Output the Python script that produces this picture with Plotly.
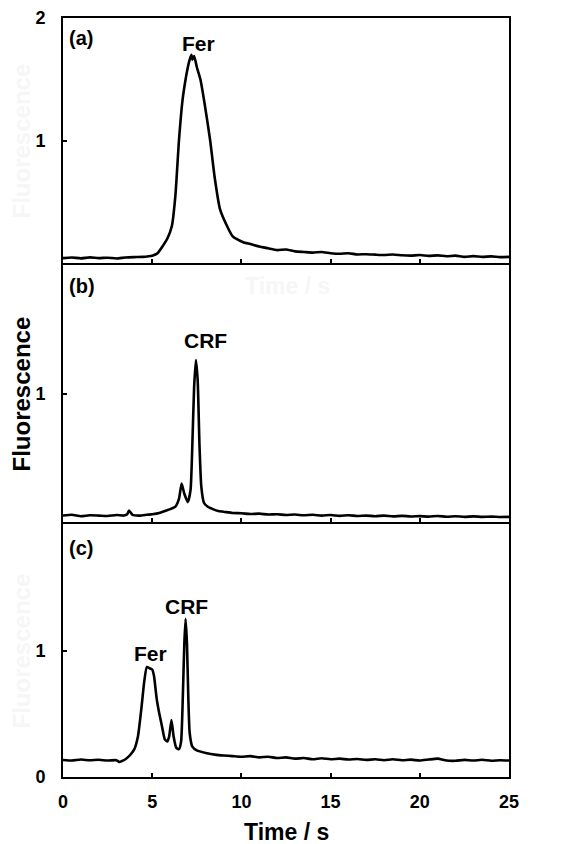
import plotly.graph_objects as go

# ---------------- data ----------------
ta = [0, 0.5, 1, 1.5, 2, 2.5, 3, 3.5, 4, 4.5, 4.8, 5.0, 5.3, 5.6, 5.85, 6.1, 6.3, 6.5, 6.7, 6.85,
      7.0, 7.1, 7.2, 7.25, 7.35, 7.5, 7.7, 7.95, 8.25, 8.5, 8.8, 9.2, 9.5, 9.8, 10.1, 10.5, 11.0,
      11.5, 12, 12.5, 13, 13.5, 14, 14.5, 15, 15.5, 16, 16.5, 17, 17.5, 18, 18.5, 19, 19.5, 20,
      20.5, 21, 21.5, 22, 22.5, 23, 23.5, 24, 24.5, 25]
va = [0.04, 0.045, 0.038, 0.046, 0.04, 0.043, 0.037, 0.045, 0.048, 0.05, 0.055, 0.06, 0.08, 0.14,
      0.20, 0.30, 0.55, 1.00, 1.33, 1.48, 1.60, 1.66, 1.70, 1.66, 1.69, 1.60, 1.50, 1.29, 1.00,
      0.70, 0.44, 0.30, 0.22, 0.19, 0.17, 0.155, 0.135, 0.12, 0.105, 0.11, 0.095, 0.09, 0.085,
      0.09, 0.08, 0.075, 0.08, 0.07, 0.072, 0.068, 0.065, 0.07, 0.063, 0.06, 0.065, 0.058, 0.062,
      0.055, 0.06, 0.05, 0.056, 0.05, 0.054, 0.048, 0.05]

tb = [0, 0.5, 1, 1.5, 2, 2.5, 3, 3.4, 3.6, 3.7, 3.9, 4.3, 4.7, 5.0, 5.4, 5.7, 6.0, 6.3, 6.5, 6.65,
      6.8, 7.0, 7.15, 7.25, 7.35, 7.45, 7.55, 7.65, 7.75, 7.9, 8.1, 8.4, 8.7, 9.0, 9.5, 10, 10.5,
      11, 11.5, 12, 12.5, 13, 13.5, 14, 14.5, 15, 15.5, 16, 16.5, 17, 17.5, 18, 18.5, 19, 19.5,
      20, 20.5, 21, 21.5, 22, 22.5, 23, 23.5, 24, 24.5, 25]
vb = [0.05, 0.056, 0.045, 0.052, 0.05, 0.047, 0.055, 0.05, 0.06, 0.09, 0.055, 0.05, 0.056, 0.06,
      0.07, 0.085, 0.10, 0.12, 0.18, 0.30, 0.22, 0.155, 0.25, 0.60, 1.05, 1.26, 1.10, 0.60, 0.28,
      0.15, 0.12, 0.10, 0.085, 0.08, 0.07, 0.068, 0.062, 0.065, 0.058, 0.06, 0.055, 0.058, 0.052,
      0.056, 0.05, 0.054, 0.048, 0.052, 0.047, 0.05, 0.045, 0.05, 0.044, 0.048, 0.043, 0.046,
      0.042, 0.047, 0.041, 0.045, 0.04, 0.044, 0.04, 0.042, 0.039, 0.04]

tc = [0, 0.5, 1, 1.5, 2, 2.5, 3.0, 3.15, 3.5, 3.8, 4.0, 4.2, 4.4, 4.55, 4.7, 4.85, 5.0, 5.1, 5.25,
      5.4, 5.55, 5.7, 5.85, 5.95, 6.08, 6.2, 6.35, 6.5, 6.62, 6.72, 6.8, 6.87, 6.95, 7.02, 7.1,
      7.25, 7.5, 8.0, 8.6, 9.0, 9.5, 10, 10.5, 11, 11.5, 12, 12.5, 13, 13.5, 14, 14.5, 15, 15.5,
      16, 16.5, 17, 17.5, 18, 18.5, 19, 19.5, 20, 20.5, 21, 21.5, 22, 22.5, 23, 23.5, 24, 24.5, 25]
vc = [0.135, 0.13, 0.138, 0.132, 0.136, 0.13, 0.133, 0.118, 0.14, 0.18, 0.22, 0.32, 0.55, 0.75,
      0.87, 0.86, 0.85, 0.80, 0.62, 0.50, 0.40, 0.30, 0.28, 0.32, 0.45, 0.32, 0.23, 0.22, 0.28,
      0.65, 1.05, 1.25, 1.05, 0.65, 0.35, 0.24, 0.21, 0.19, 0.175, 0.17, 0.165, 0.16, 0.165,
      0.155, 0.16, 0.15, 0.155, 0.145, 0.15, 0.14, 0.148, 0.14, 0.145, 0.138, 0.142, 0.135,
      0.14, 0.133, 0.14, 0.132, 0.137, 0.13, 0.138, 0.145, 0.13, 0.128, 0.135, 0.13, 0.136,
      0.128, 0.133, 0.13]

xticks = [0, 5, 10, 15, 20, 25]

FONT = "Arial, Liberation Sans, sans-serif"

fig = go.Figure()
for t, v, ax in [(ta, va, ""), (tb, vb, "2"), (tc, vc, "3")]:
    fig.add_trace(go.Scatter(x=t, y=v, mode="lines", xaxis="x" + ax, yaxis="y" + ax,
                             line=dict(color="black", width=2.6, shape="spline", smoothing=0.5),
                             showlegend=False, hoverinfo="skip"))

tickfont = dict(family=FONT, size=18, color="black", weight="bold")
ax_common = dict(range=[0, 25], showline=True, linecolor="black", linewidth=2, mirror=True,
                 showgrid=False, zeroline=False, ticks="inside", ticklen=4, tickwidth=1.5,
                 tickcolor="black", tickfont=tickfont, ticklabelstandoff=7, automargin=False)
yax_common = dict(range=[0, 2], showline=True, linecolor="black", linewidth=2, mirror=True,
                  showgrid=False, zeroline=False, ticks="inside", ticklen=4, tickwidth=1.5,
                  tickcolor="black", tickfont=tickfont, ticklabelstandoff=12, automargin=False)

def dom(top_px, bot_px):
    return [(777 - bot_px) / 759, (777 - top_px) / 759]

fig.update_layout(
    width=569, height=844,
    margin=dict(l=63, r=60, t=18, b=67),
    paper_bgcolor="white", plot_bgcolor="white",
    xaxis=dict(ax_common, anchor="y", showticklabels=False, tickvals=xticks),
    yaxis=dict(yax_common, domain=dom(18, 263), tickvals=[1, 2]),
    xaxis2=dict(ax_common, anchor="y2", showticklabels=False, tickvals=xticks),
    yaxis2=dict(yax_common, domain=dom(265, 522), tickvals=[1]),
    xaxis3=dict(ax_common, anchor="y3", tickvals=xticks),
    yaxis3=dict(yax_common, domain=dom(524, 777), tickvals=[0, 1]),
)

def ann(text, x, y, xref="x", yref="y", size=16, color="black", **kw):
    fig.add_annotation(text=text, x=x, y=y, xref=xref, yref=yref, showarrow=False,
                       font=dict(family=FONT, size=size, color=color), **kw)

# faint ghost texts present in the picture
ghost = "#f6f6f6"
ann("<b>Fluorescence</b>", -0.092, 1.0, xref="paper", yref="y", size=24, color=ghost,
    textangle=-90, xanchor="center")
ann("<b>Fluorescence</b>", -0.092, 1.0, xref="paper", yref="y3", size=24, color=ghost,
    textangle=-90, xanchor="center")
ann("<b>Time / s</b>", 12.6, 1.84, xref="x2", yref="y2", size=23, color=ghost)

# panel letters
ann("<b>(a)</b>", 0.25, 1.84, "x", "y", size=20, xanchor="left")
ann("<b>(b)</b>", 0.25, 1.84, "x2", "y2", size=20, xanchor="left")
ann("<b>(c)</b>", 0.25, 1.81, "x3", "y3", size=20, xanchor="left")

# peak labels
ann("<b>Fer</b>", 7.57, 1.79, "x", "y", size=21)
ann("<b>CRF</b>", 8.0, 1.41, "x2", "y2", size=21)
ann("<b>CRF</b>", 6.9, 1.35, "x3", "y3", size=21)
ann("<b>Fer</b>", 4.93, 0.98, "x3", "y3", size=21)

# axis titles
ann("<b>Fluorescence</b>", -0.092, 1.0, xref="paper", yref="y2", size=24, textangle=-90,
    xanchor="center")
ann("<b>Time / s</b>", 0.5, (777 - 832) / 759, xref="paper", yref="paper", size=23,
    yanchor="middle")

fig.write_html("out.html")
